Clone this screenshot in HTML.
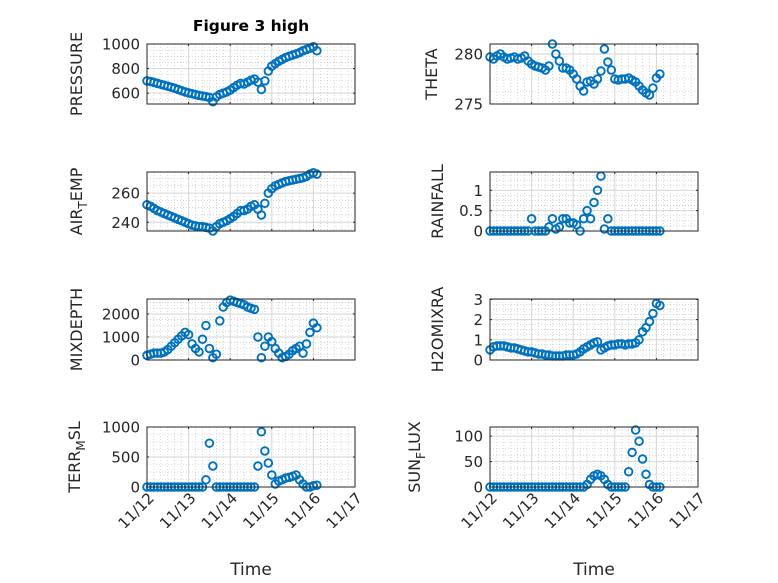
<!DOCTYPE html>
<html><head><meta charset="utf-8"><style>
html,body{margin:0;padding:0;background:#fff;}
svg{display:block;font-family:"DejaVu Sans","Liberation Sans",sans-serif;}
</style></head><body>
<svg id="fig" width="778" height="583" viewBox="0 0 778 583" xmlns="http://www.w3.org/2000/svg">
<rect width="778" height="583" fill="#fff"/>
<text x="251" y="31" text-anchor="middle" font-size="15.5" font-weight="bold" fill="#000">Figure 3 high</text>
</svg>
<script>
// time in hours since 11/12 00:00
const hours = [0,2,4,6,8,10,12,14,16,18,20,22,24,26,28,30,32,34,36,38,40,42,44,46,48,50,52,54,56,58,60,62,64,66,68,70,72,74,76,78,80,82,84,86,88,90,92,94,96,98];
const xTickLabels = ["11/12","11/13","11/14","11/15","11/16","11/17"];
const pressure = [700,695,688,680,672,664,656,648,640,630,620,610,602,595,588,582,577,572,565,530,570,590,600,610,625,645,665,680,675,690,705,715,690,630,700,780,820,840,860,875,890,900,910,920,930,945,955,965,978,945];
const theta = [279.7,279.5,279.8,280,279.7,279.5,279.6,279.7,279.5,279.6,279.8,279.3,279,278.8,278.7,278.6,278.4,278.8,281,280,279.3,278.6,278.6,278.4,278,277.5,276.8,276.3,277.2,277.3,277,277.5,278.3,280.5,279.2,278.4,277.5,277.4,277.5,277.5,277.6,277.4,277.2,276.8,276.4,276.1,275.9,276.6,277.6,278];
const airTemp = [252,251,249.5,248,247,246,245,244,243,242,241,240,239,238,237.5,237,237,236.5,236,234,237,239,240,241,242.5,244,246,248,248,249,251,252,249,245,253,260,263,265,266,267,268,268.5,269,269.5,270,270.5,271.5,273,274,273];
const rainfall = [0,0,0,0,0,0,0,0,0,0,0,0,0.3,0,0,0,0,0.1,0.3,0.05,0.1,0.3,0.3,0.2,0.2,0.15,0,0.3,0.5,0.3,0.7,1.0,1.35,0.05,0.3,0,0,0,0,0,0,0,0,0,0,0,0,0,0,0];
const mixDepth = [200,250,300,300,300,350,450,600,750,900,1050,1200,1100,700,500,350,900,1500,500,100,250,1700,2300,2500,2600,2550,2500,2450,2400,2300,2250,2200,1000,100,600,1000,800,500,300,100,150,250,400,500,600,300,700,1200,1600,1400];
const h2oMix = [0.5,0.65,0.7,0.7,0.7,0.65,0.6,0.6,0.55,0.5,0.45,0.4,0.4,0.35,0.3,0.3,0.25,0.25,0.2,0.2,0.2,0.2,0.25,0.25,0.25,0.3,0.4,0.55,0.65,0.75,0.85,0.9,0.5,0.6,0.7,0.75,0.75,0.8,0.8,0.75,0.8,0.8,0.85,1.0,1.4,1.6,1.9,2.3,2.8,2.7];
const terrMsl = [0,0,0,0,0,0,0,0,0,0,0,0,0,0,0,0,0,120,730,350,0,0,0,0,0,0,0,0,0,0,0,0,350,920,600,400,200,50,100,120,150,160,180,200,120,50,0,0,20,30];
const sunFlux = [0,0,0,0,0,0,0,0,0,0,0,0,0,0,0,0,0,0,0,0,0,0,0,0,0,0,0,0,5,15,22,25,22,15,5,0,0,0,0,0,30,68,112,90,55,25,5,0,0,0];
const pressureTicks = [600,800,1000];
const thetaTicks = [275,280];
const airTempTicks = [240,260];
const rainTicks = [0,0.5,1];
const mixTicks = [0,1000,2000];
const h2oTicks = [0,1,2,3];
const terrTicks = [0,500,1000];
const sunTicks = [0,50,100];

const NS = "http://www.w3.org/2000/svg";
const svg = document.getElementById('fig');
function mk(tag, attrs, parent){const e=document.createElementNS(NS,tag);for(const k in attrs)e.setAttribute(k,attrs[k]);(parent||svg).appendChild(e);return e;}

const panels = [
 {key:'pressure',col:0,row:0,data:pressure,ymin:512,ymax:1000,ticks:pressureTicks,label:['PRESSURE'],lx:82},
 {key:'theta',col:1,row:0,data:theta,ymin:275,ymax:281,ticks:thetaTicks,label:['THETA'],lx:437},
 {key:'air-temp',col:0,row:1,data:airTemp,ymin:234,ymax:274.5,ticks:airTempTicks,label:['AIR','T','EMP'],lx:82},
 {key:'rainfall',col:1,row:1,data:rainfall,ymin:0,ymax:1.45,ticks:rainTicks,label:['RAINFALL'],lx:443},
 {key:'mix-depth',col:0,row:2,data:mixDepth,ymin:0,ymax:2650,ticks:mixTicks,label:['MIXDEPTH'],lx:82},
 {key:'h2o-mix',col:1,row:2,data:h2oMix,ymin:0,ymax:3.02,ticks:h2oTicks,label:['H2OMIXRA'],lx:443},
 {key:'terr-msl',col:0,row:3,data:terrMsl,ymin:0,ymax:1000,ticks:terrTicks,label:['TERR','M','SL'],lx:80},
 {key:'sun-flux',col:1,row:3,data:sunFlux,ymin:0,ymax:118,ticks:sunTicks,label:['SUN','F','LUX'],lx:420},
];
const colX = [[147,355],[490,698]];
const rowY = [[44,104],[172,231],[299,360],[427,487]];

panels.forEach(p=>{
  const [x0,x1]=colX[p.col], [y0,y1]=rowY[p.row];
  const xs = h => x0 + (h/120)*(x1-x0);
  const ys = v => y1 - (v-p.ymin)/(p.ymax-p.ymin)*(y1-y0);
  const g = mk('g',{});
  
  
  mk('rect',{x:x0,y:y0,width:x1-x0,height:y1-y0,fill:'#fff'},g);
  for(let h=4;h<120;h+=4){ if(h%24===0) continue;
    mk('line',{x1:xs(h),x2:xs(h),y1:y0,y2:y1,stroke:'#bbb','stroke-width':0.6,'stroke-dasharray':'1 2'},g);}
  const step = p.ticks[1]-p.ticks[0];
  for(let v=p.ticks[0]-step; v<=p.ymax+1e-9; v+=step/4){
    if(v<p.ymin-1e-9) continue;
    mk('line',{x1:x0,x2:x1,y1:ys(v),y2:ys(v),stroke:'#bbb','stroke-width':0.6,'stroke-dasharray':'1 2'},g);}
  for(let d=1;d<5;d++) mk('line',{x1:xs(d*24),x2:xs(d*24),y1:y0,y2:y1,stroke:'#d6d6d6','stroke-width':1},g);
  p.ticks.forEach(v=>{ if(v>p.ymin && v<p.ymax) mk('line',{x1:x0,x2:x1,y1:ys(v),y2:ys(v),stroke:'#d6d6d6','stroke-width':1},g);});
  for(let d=0;d<=5;d++){ const x=xs(d*24);
    mk('line',{x1:x,x2:x,y1:y1,y2:y1-2,stroke:'#262626'},g); mk('line',{x1:x,x2:x,y1:y0,y2:y0+2,stroke:'#262626'},g);}
  p.ticks.forEach(v=>{
    mk('line',{x1:x0,x2:x0+2,y1:ys(v),y2:ys(v),stroke:'#262626'},g);
    mk('line',{x1:x1,x2:x1-2,y1:ys(v),y2:ys(v),stroke:'#262626'},g);
    const t=mk('text',{x:x0-7,y:ys(v)+5.5,'text-anchor':'end','font-size':15,fill:'#262626'},g);
    
    
    t.textContent = String(v);
  });
  const mg = mk('g',{},g);
  
  
  p.data.forEach((v,i)=>{
    const c = mk('circle',{cx:xs(hours[i]),cy:ys(v),r:3.8,fill:'none',stroke:'#0072BD','stroke-width':1.9},mg);
    
    
  });
  mk('rect',{x:x0,y:y0,width:x1-x0,height:y1-y0,fill:'none',stroke:'#262626','stroke-width':1},g);
  const cy=(y0+y1)/2;
  const yl = mk('text',{x:p.lx,y:cy,'text-anchor':'middle','font-size':16,fill:'#262626',transform:`rotate(-90 ${p.lx} ${cy})`},g);
  
  
  if(p.label.length===1){ yl.textContent=p.label[0]; }
  else{
    const a=mk('tspan',{},yl); a.textContent=p.label[0];
    const b=mk('tspan',{dy:5,'font-size':12},yl); b.textContent=p.label[1];
    const c=mk('tspan',{dy:-5},yl); c.textContent=p.label[2];
  }
  if(p.row===3){
    xTickLabels.forEach((lab,d)=>{
      const x=xs(d*24)+8, y=y1+12;
      const t=mk('text',{x:x,y:y,'text-anchor':'end','font-size':15,fill:'#262626',transform:`rotate(-45 ${x} ${y})`},g);
      
      
      t.textContent=lab;
    });
    const xt=mk('text',{x:(x0+x1)/2,y:575,'text-anchor':'middle','font-size':17,fill:'#262626'},g);
    
    
    xt.textContent='Time';
  }
});
</script>
</body></html>
